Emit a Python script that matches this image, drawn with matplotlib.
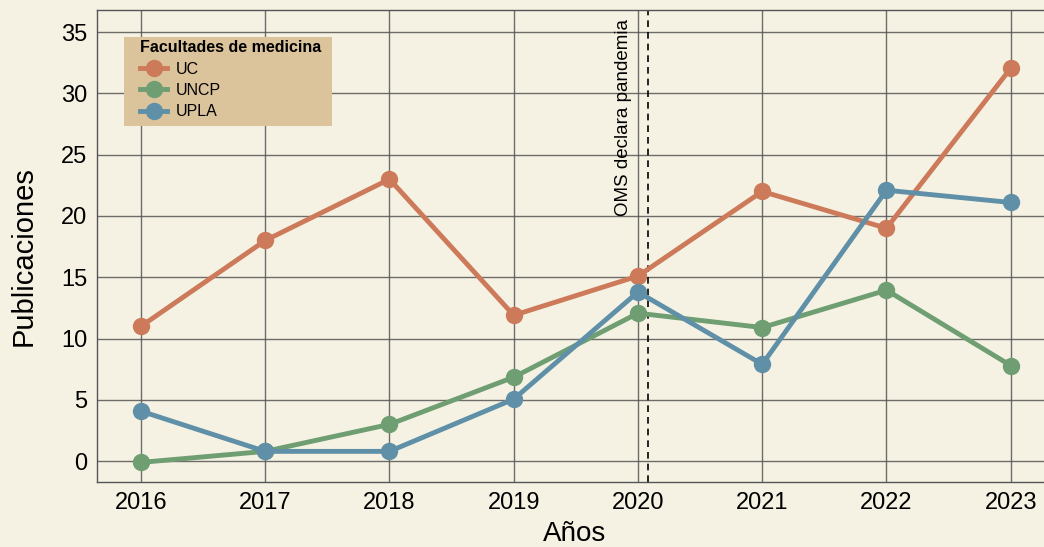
import matplotlib
matplotlib.use('Agg')
import matplotlib.pyplot as plt
from matplotlib.patches import Rectangle

plt.rcParams['font.family'] = ['Liberation Sans', 'DejaVu Sans']

years = [2016, 2017, 2018, 2019, 2020, 2021, 2022, 2023]
uc = [11.0, 18.0, 23.0, 11.9, 15.1, 22.0, 19.0, 32.05]
uncp = [-0.1, 0.8, 3.0, 6.85, 12.07, 10.9, 13.95, 7.8]
upla = [4.08, 0.8, 0.8, 5.06, 13.8, 7.9, 22.1, 21.1]

series = [
    ('UC', uc, '#CC7A5A'),
    ('UNCP', uncp, '#6E9E72'),
    ('UPLA', upla, '#5F90A8'),
]

bg = '#F5F2E3'

fig = plt.figure(figsize=(10.44, 5.47), dpi=100, facecolor=bg)
# axes run slightly past the right edge, like the reference crop
ax = fig.add_axes([0.0929, 0.1188, 0.9157, 0.8629])
ax.set_facecolor(bg)

for name, vals, col in series:
    ax.plot(years, vals, color=col, lw=3.5, marker='o', ms=11.5, label=name, zorder=3)

# pandemic marker
ax.axvline(2020.08, color='black', lw=1.2, ls=(0, (4, 3)), zorder=2)
ax.text(2019.95, 20.0, 'OMS declara pandemia', rotation=90, ha='right', va='bottom',
        fontsize=13.5, color='black')

ax.set_xlim(2016 - 0.354, 2023 + 0.34)
ax.set_ylim(-1.7, 36.8)
ax.set_xticks(years)
ax.set_yticks(range(0, 36, 5))
ax.tick_params(length=0, labelsize=17, pad=7)
ax.grid(True, color='#555555', lw=1.0, alpha=0.85, zorder=0)
ax.set_axisbelow(True)
for s in ax.spines.values():
    s.set_color('#555555')
    s.set_linewidth(1.0)

ax.set_xlabel('Años', fontsize=20, labelpad=5)
ax.set_ylabel('Publicaciones', fontsize=21)
ax.yaxis.set_label_coords(-0.0617, 0.479)

# legend box
ax.add_patch(Rectangle((0.0282, 0.754), 0.2176, 0.189, transform=ax.transAxes,
                       facecolor='#DBC39B', edgecolor='none', zorder=4))
leg = ax.legend(title='Facultades de medicina', loc='upper left',
                bbox_to_anchor=(0.0366, 0.953), fontsize=11.5,
                frameon=False, handlelength=1.7, handletextpad=0.55,
                borderpad=0.0, labelspacing=0.4, alignment='left')
leg.set_zorder(5)
leg.get_title().set_fontweight('bold')
leg.get_title().set_fontsize(11.5)

fig.savefig('out.png', dpi=100, facecolor=bg)
